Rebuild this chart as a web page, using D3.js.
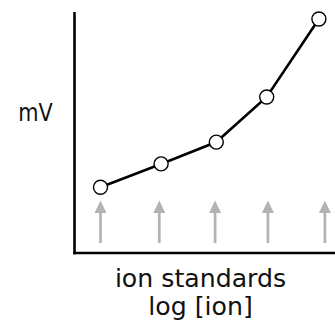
<!DOCTYPE html>
<html>
<head>
<meta charset="utf-8">
<script src="https://cdn.jsdelivr.net/npm/d3@7"></script>
<style>
  body { margin: 0; background: #fff; }
  text { font-family: "DejaVu Sans", sans-serif; fill: #111; }
</style>
</head>
<body>
<script>
// #Data: standards in log units, measured response in mV
const standardLog = [1.0, 2.01, 2.93, 3.77, 4.64];
const standardMv  = [27, 36.7, 45.8, 64.6, 97.1];
const arrowLog    = [1.0, 1.98, 2.91, 3.79, 4.74];
const yLabel = 'mV';
const xLabels = ['ion standards', 'log [ion]'];

// #Define SVG
const width = 335, height = 321;
const svg = d3.select('body')
              .append('svg')
              .attr('width', width)
              .attr('height', height);

const axisX = 74.5, axisY = 253, axisTop = 12;

// #Scales
const xScale = d3.scaleLinear()
                 .domain([1, 2])
                 .range([100.5, 160.5]);
const yScale = d3.scaleLinear()
                 .domain([0, 100])
                 .range([252, 12]);

// #Axes (plain lines, no ticks)
svg.append('line')
   .attr('x1', axisX).attr('x2', axisX)
   .attr('y1', axisTop).attr('y2', axisY + 1.3)
   .attr('stroke', '#000')
   .attr('stroke-width', 2.6);
svg.append('line')
   .attr('x1', axisX - 1.3).attr('x2', width)
   .attr('y1', axisY).attr('y2', axisY)
   .attr('stroke', '#000')
   .attr('stroke-width', 2.6);

// #Grey arrows for each standard
const arrows = svg.append('g').attr('class', 'arrows');
const arrowTip = 200.5, headLen = 12.5, headW = 12, arrowEnd = 243;
arrows.selectAll('line')
      .data(arrowLog)
      .enter()
      .append('line')
      .attr('x1', d => xScale(d)).attr('x2', d => xScale(d))
      .attr('y1', arrowTip + headLen - 1).attr('y2', arrowEnd)
      .attr('stroke', '#b3b3b3')
      .attr('stroke-width', 2.7);
arrows.selectAll('path')
      .data(arrowLog)
      .enter()
      .append('path')
      .attr('d', d => {
          const x = xScale(d);
          return `M${x},${arrowTip} L${x + headW / 2},${arrowTip + headLen} L${x - headW / 2},${arrowTip + headLen} Z`;
      })
      .attr('fill', '#b3b3b3');

// #Calibration line
const points = standardLog.map((v, i) => [v, standardMv[i]]);
const line = d3.line()
               .x(d => xScale(d[0]))
               .y(d => yScale(d[1]));
svg.append('path')
   .datum(points)
   .attr('d', line)
   .attr('fill', 'none')
   .attr('stroke', '#000')
   .attr('stroke-width', 2.6);
svg.append('g')
   .selectAll('circle')
   .data(points)
   .enter()
   .append('circle')
   .attr('cx', d => xScale(d[0]))
   .attr('cy', d => yScale(d[1]))
   .attr('r', 7)
   .attr('fill', '#fff')
   .attr('stroke', '#000')
   .attr('stroke-width', 1.4);

// #Labels
svg.append('text')
   .attr('x', 35.5)
   .attr('y', 120.5)
   .attr('text-anchor', 'middle')
   .attr('textLength', 34.5)
   .attr('lengthAdjust', 'spacingAndGlyphs')
   .style('font-size', '25px')
   .text(yLabel);
svg.append('g')
   .selectAll('text')
   .data(xLabels)
   .enter()
   .append('text')
   .attr('x', 200.5)
   .attr('y', (d, i) => 287.3 + i * 28)
   .attr('text-anchor', 'middle')
   .style('font-size', '25.2px')
   .text(d => d);
</script>
</body>
</html>
